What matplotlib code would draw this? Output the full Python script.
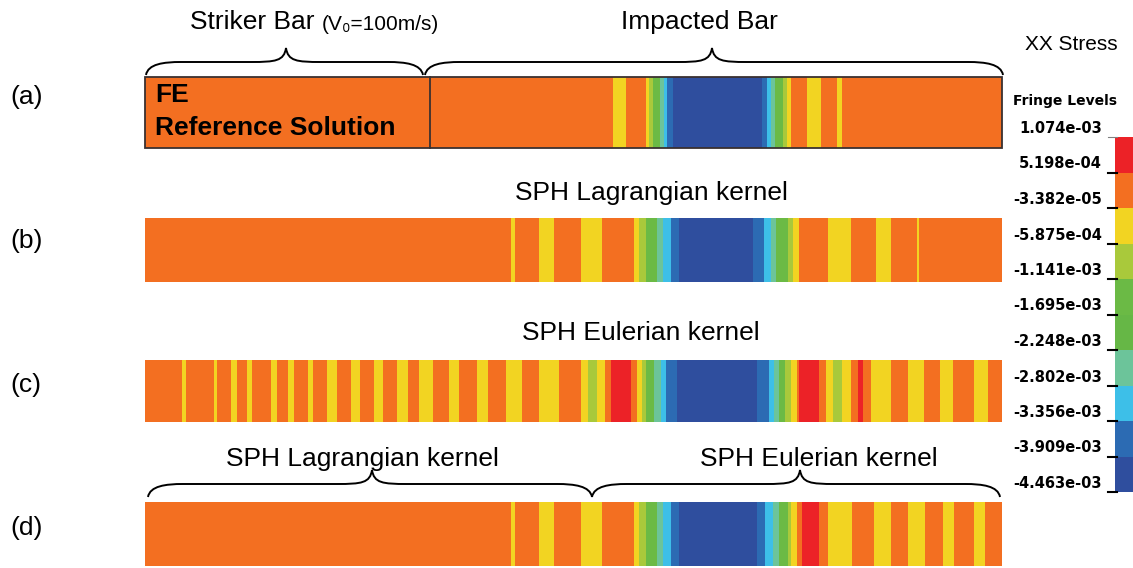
import numpy as np
import matplotlib.pyplot as plt
from matplotlib.path import Path
from matplotlib.patches import PathPatch

plt.rcParams['font.family'] = ['Liberation Sans', 'DejaVu Sans']

# fringe colours, index 0 = most compressive
level_colors = ['#2F4E9E', '#2C6BB3', '#3DBFE8', '#6CC49A', '#66B746',
                '#6BBA45', '#A9C93B', '#F2D422', '#F36F21', '#EC2227']
level_labels = ['1.074e-03', '5.198e-04', '-3.382e-05', '-5.875e-04', '-1.141e-03',
                '-1.695e-03', '-2.248e-03', '-2.802e-03', '-3.356e-03', '-3.909e-03',
                '-4.463e-03']

# band edges along the bar (picture x) and fringe level of each band
O, Y, YG, G, G2, T, C, B, DB, R = 8, 7, 6, 5, 4, 3, 2, 1, 0, 9

edges_a = [145, 613, 626, 646, 649, 653, 660, 664, 667, 673, 762, 767, 771, 775,
           783, 787, 791, 807, 821, 837, 842, 1002]
levels_a = [O, Y, O, Y, YG, G, T, C, B, DB, B, C, T, G, YG, Y, O, Y, O, Y, O]

edges_b = [145, 511, 515, 539, 554, 581, 602, 634, 639, 646, 657, 663, 671, 679,
           753, 764, 771, 776, 788, 793, 799, 828, 851, 876, 891, 917, 919, 1002]
levels_b = [O, Y, O, Y, O, Y, O, Y, YG, G, T, C, B, DB, B, C, T, G, YG, Y, O, Y, O,
            Y, O, Y, O]

edges_c = [145, 182, 186, 214, 217, 231, 237, 247, 252, 271, 277, 288, 294, 308,
           313, 327, 337, 351, 360, 374, 383, 397, 408, 419, 433, 449, 459, 477,
           488, 506, 522, 539, 559, 581, 588, 597, 605, 611, 631, 637, 642, 646,
           654, 661, 666, 677, 757, 769, 774, 779, 785, 791, 797, 799, 819, 826,
           833, 842, 851, 858, 863, 871, 891, 908, 924, 940, 953, 974, 988, 1002]
levels_c = [O, Y, O, Y, O, Y, O, Y, O, Y, O, Y, O, Y, O, Y, O, Y, O, Y, O, Y, O,
            Y, O, Y, O, Y, O, Y, O, Y, O, Y, YG, Y, O, R, O, Y, YG, G, T, C, B,
            DB, B, C, T, G, YG, Y, O, R, O, Y, YG, Y, O, R, O, Y, O, Y, O, Y, O,
            Y, O]

edges_d = [145, 511, 515, 539, 554, 581, 602, 634, 639, 646, 657, 663, 671, 679,
           757, 765, 773, 779, 788, 791, 797, 802, 819, 828, 852, 874, 891, 908,
           925, 943, 954, 974, 985, 1002]
levels_d = [O, Y, O, Y, O, Y, O, Y, YG, G, T, C, B, DB, B, C, T, G, YG, Y, O, R,
            O, Y, O, Y, O, Y, O, Y, O, Y, O]

bars = [(edges_a, levels_a, 77, 148), (edges_b, levels_b, 218, 282),
        (edges_c, levels_c, 360, 422), (edges_d, levels_d, 502, 566)]

fig = plt.figure(figsize=(11.33, 5.68), dpi=100)
ax = fig.add_axes([0, 0, 1, 1])
ax.set_xlim(0, 1133)
ax.set_ylim(568, 0)
ax.axis('off')

for edges, levels, top, bot in bars:
    e = np.array(edges, dtype=float)
    ax.barh((top + bot) / 2, e[1:] - e[:-1], left=e[:-1], height=bot - top,
            color=[level_colors[l] for l in levels], edgecolor='none')

# border of the FE bar and the striker/impacted split
ax.add_patch(plt.Rectangle((145, 77), 857, 71, fill=False, ec='#3a3030', lw=1.3))
ax.plot([430, 430], [77, 148], color='#3a3030', lw=1.3)


def brace(x0, x1, xm, y_end, y_flat, y_tip):
    r = 35
    verts = [(x0, y_end), (x0 + 2, y_flat + 2), (x0 + r * 0.5, y_flat), (x0 + r, y_flat),
             (xm - r, y_flat),
             (xm - r * 0.3, y_flat), (xm - 2, y_flat - 1), (xm, y_tip),
             (xm + 2, y_flat - 1), (xm + r * 0.3, y_flat), (xm + r, y_flat),
             (x1 - r, y_flat),
             (x1 - r * 0.5, y_flat), (x1 - 2, y_flat + 2), (x1, y_end)]
    codes = [Path.MOVETO, Path.CURVE4, Path.CURVE4, Path.CURVE4, Path.LINETO,
             Path.CURVE4, Path.CURVE4, Path.CURVE4, Path.CURVE4, Path.CURVE4, Path.CURVE4,
             Path.LINETO, Path.CURVE4, Path.CURVE4, Path.CURVE4]
    ax.add_patch(PathPatch(Path(verts, codes), fill=False, lw=1.4, ec='black'))


brace(146, 423, 286, 75, 62, 48)
brace(425, 1003, 712, 75, 62, 48)
brace(148, 592, 372, 497, 484, 470)
brace(592, 1000, 800, 497, 484, 470)

ax.text(190, 22, 'Striker Bar', fontsize=19, ha='left', va='center')
ax.text(322, 25, '(V\u2080=100m/s)', fontsize=15, ha='left', va='center')
ax.text(699, 22, 'Impacted Bar', fontsize=19, ha='center', va='center')
ax.text(651, 193, 'SPH Lagrangian kernel', fontsize=19, ha='center', va='center')
ax.text(641, 333, 'SPH Eulerian kernel', fontsize=19, ha='center', va='center')
ax.text(362, 459, 'SPH Lagrangian kernel', fontsize=19, ha='center', va='center')
ax.text(819, 459, 'SPH Eulerian kernel', fontsize=19, ha='center', va='center')

for lab, y in zip(['(a)', '(b)', '(c)', '(d)'], [97, 241, 385, 528]):
    ax.text(10, y, lab, fontsize=19, ha='left', va='center')

ax.text(155, 95, 'FE', fontsize=19, fontweight='bold', ha='left', va='center')
ax.text(155, 128, 'Reference Solution', fontsize=19, fontweight='bold', ha='left', va='center')

# fringe level legend
ax.text(1071, 45, 'XX Stress', fontsize=15, ha='center', va='center')
ax.text(1013, 101, 'Fringe Levels', fontsize=10, fontweight='bold', family='DejaVu Sans',
        ha='left', va='center')
cb_top, cb_step = 137, 35.5
for i in range(10):
    ax.add_patch(plt.Rectangle((1115, cb_top + i * cb_step), 20, cb_step,
                               color=level_colors[9 - i], lw=0))
for i, lab in enumerate(level_labels):
    y = cb_top + i * cb_step
    ax.text(1102, y - 1, lab, fontsize=10.5, fontweight='bold', family='DejaVu Sans',
            ha='right', va='bottom')
    ax.plot([1108, 1117], [y, y], color='black' if i else 'gray', lw=1.5 if i else 0.8)

fig.savefig('out.png', dpi=100)
